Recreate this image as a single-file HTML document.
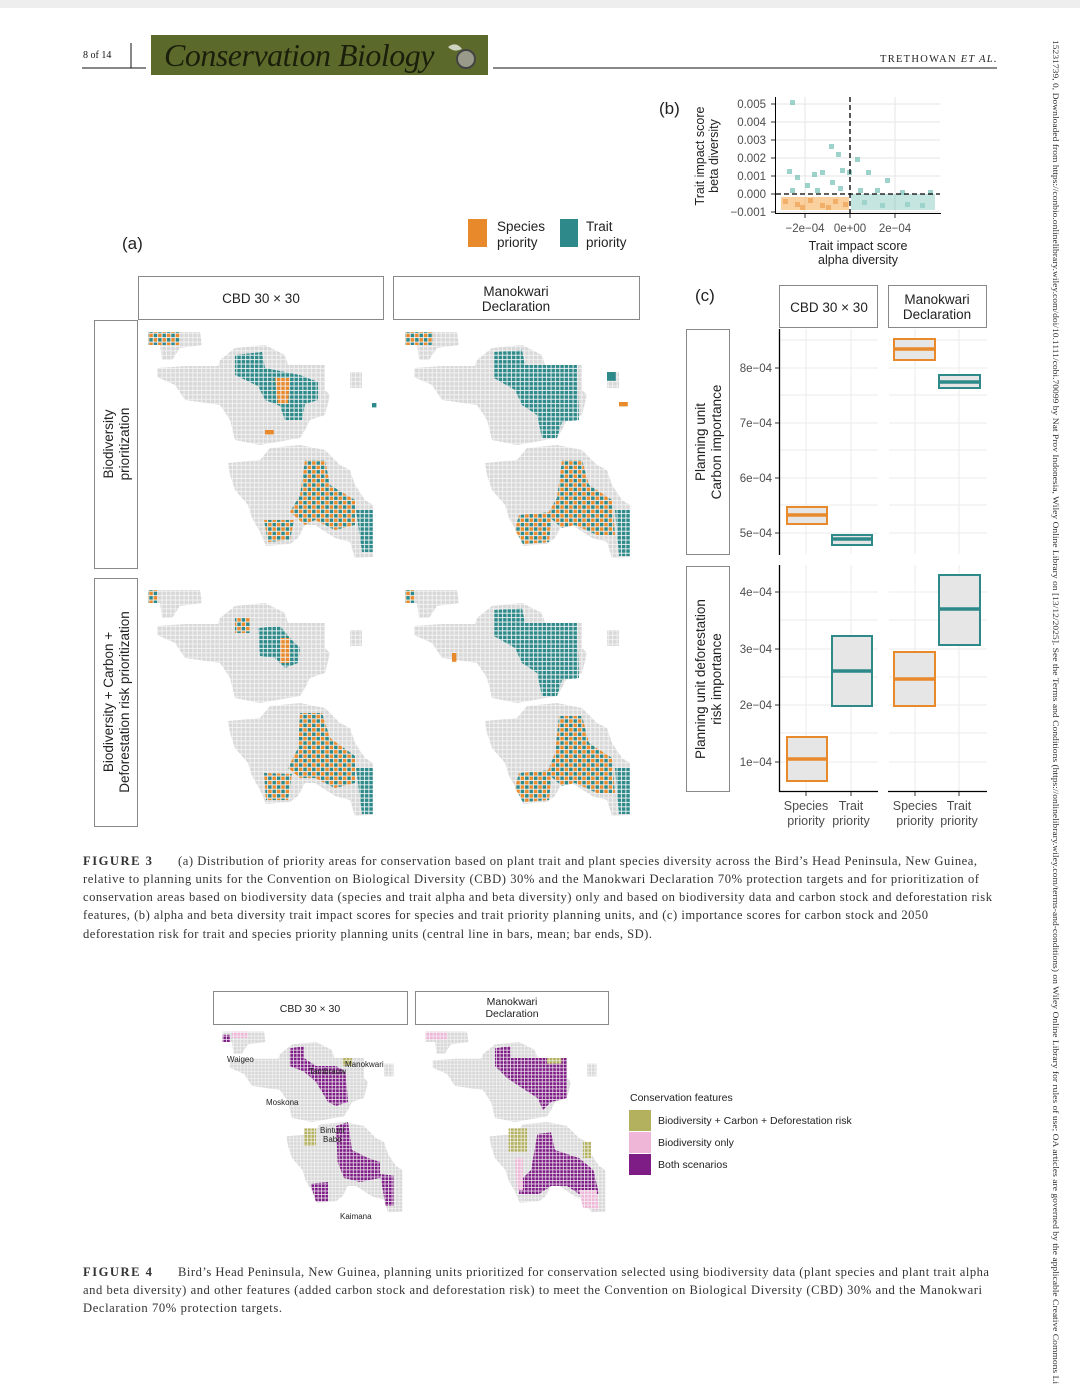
<!DOCTYPE html>
<html><head><meta charset="utf-8"><style>
html,body{margin:0;padding:0;background:#fff}
svg{display:block}
.s{font-family:"Liberation Sans",sans-serif;fill:#222}
.t{font-family:"Liberation Sans",sans-serif;fill:#4d4d4d}
.c{font-family:"Liberation Serif",serif;fill:#333;font-size:12.6px}
</style></head><body>
<svg width="1080" height="1384" viewBox="0 0 1080 1384" xmlns="http://www.w3.org/2000/svg">
<defs>
<pattern id="g" width="4.4" height="4.4" patternUnits="userSpaceOnUse"><rect width="4.4" height="4.4" fill="#f4f4f4"/><rect x="0.5" y="0.5" width="3.5" height="3.5" fill="#d8d8d8"/></pattern>
<pattern id="tl" width="4.4" height="4.4" patternUnits="userSpaceOnUse"><rect width="4.4" height="4.4" fill="#f4f4f4"/><rect x="0.5" y="0.5" width="3.5" height="3.5" fill="#2e8a8a"/></pattern>
<pattern id="or" width="4.4" height="4.4" patternUnits="userSpaceOnUse"><rect width="4.4" height="4.4" fill="#f4f4f4"/><rect x="0.5" y="0.5" width="3.5" height="3.5" fill="#e8892c"/></pattern>
<pattern id="mx" width="8.8" height="8.8" patternUnits="userSpaceOnUse"><rect width="8.8" height="8.8" fill="#f4f4f4"/><rect x="0.5" y="0.5" width="3.5" height="3.5" fill="#2e8a8a"/><rect x="4.9" y="0.5" width="3.5" height="3.5" fill="#e8892c"/><rect x="0.5" y="4.9" width="3.5" height="3.5" fill="#e8892c"/><rect x="4.9" y="4.9" width="3.5" height="3.5" fill="#2e8a8a"/></pattern>
<pattern id="pu" width="4.4" height="4.4" patternUnits="userSpaceOnUse"><rect width="4.4" height="4.4" fill="#f4f4f4"/><rect x="0.5" y="0.5" width="3.5" height="3.5" fill="#7f1d86"/></pattern>
<pattern id="ol" width="4.4" height="4.4" patternUnits="userSpaceOnUse"><rect width="4.4" height="4.4" fill="#f4f4f4"/><rect x="0.5" y="0.5" width="3.5" height="3.5" fill="#b3b15e"/></pattern>
<pattern id="pk" width="4.4" height="4.4" patternUnits="userSpaceOnUse"><rect width="4.4" height="4.4" fill="#f4f4f4"/><rect x="0.5" y="0.5" width="3.5" height="3.5" fill="#efb6d8"/></pattern>
<g id="land">
<path d="M8,12 L60,12 L62,25 L40,28 L32,40 L22,40 L20,25 L8,25Z"/>
<path d="M17,48 L45,46 L78,46 L80,40 L95,28 L125,25 L145,35 L148,45 L185,45 L185,70 L190,75 L185,95 L170,100 L165,110 L160,118 L120,125 L95,120 L90,100 L80,85 L45,80 L35,65 L17,57Z"/>
<path d="M210,52 L222,52 L222,68 L210,68Z"/>
<path d="M88,143 L120,140 L130,128 L160,125 L185,130 L200,145 L210,150 L215,165 L225,180 L233,185 L233,237 L215,238 L210,222 L195,218 L175,205 L165,205 L158,218 L150,224 L126,226 L120,212 L112,198 L108,185 L95,170 L90,155Z"/>
</g>
</defs>
<rect x="0" y="0" width="1080" height="8" fill="#eeeeee"/>

<!-- header -->
<text x="83" y="58" class="c" style="font-size:10px;fill:#111">8 of 14</text>
<line x1="131" y1="43" x2="131" y2="68" stroke="#111" stroke-width="1"/>
<line x1="82" y1="68" x2="146" y2="68" stroke="#111" stroke-width="1"/>
<rect x="151" y="35" width="337" height="40" fill="#5b6a2b"/>
<text x="164" y="66" style="font-family:'Liberation Serif',serif;font-style:italic;font-size:32px;fill:#1a1f0c;letter-spacing:-0.5px">Conservation Biology</text>
<circle cx="466" cy="59" r="9" fill="#9a9a8a" stroke="#444" stroke-width="2"/>
<path d="M448,47 q8,-6 14,2 q-8,4 -14,-2Z" fill="#cfd4c0"/>
<line x1="493" y1="68" x2="997" y2="68" stroke="#111" stroke-width="1"/>
<text x="880" y="62" class="c" textLength="117" style="font-size:10.5px;fill:#222;letter-spacing:0.5px">TRETHOWAN <tspan font-style="italic">ET AL.</tspan></text>

<!-- right side vertical text -->
<text transform="translate(1053,40) rotate(90)" class="c" textLength="1344" lengthAdjust="spacingAndGlyphs" style="font-size:8.6px;fill:#333">15231739, 0, Downloaded from https://conbio.onlinelibrary.wiley.com/doi/10.1111/cobi.70099 by Nat Prov Indonesia, Wiley Online Library on [13/12/2025]. See the Terms and Conditions (https://onlinelibrary.wiley.com/terms-and-conditions) on Wiley Online Library for rules of use; OA articles are governed by the applicable Creative Commons Li</text>

<!-- (a) legend -->
<text x="122" y="249" class="s" style="font-size:17px">(a)</text>
<rect x="468" y="219" width="19" height="28" fill="#e8892c"/>
<text x="497" y="231" class="s" style="font-size:13.5px">Species</text>
<text x="497" y="247" class="s" style="font-size:13.5px">priority</text>
<rect x="560" y="219" width="18" height="28" fill="#2e8a8a"/>
<text x="586" y="231" class="s" style="font-size:13.5px">Trait</text>
<text x="586" y="247" class="s" style="font-size:13.5px">priority</text>

<!-- strips (a) -->
<rect x="138.5" y="276.5" width="245" height="43" fill="#fff" stroke="#888"/>
<text x="261" y="303" class="s" text-anchor="middle" style="font-size:13.5px">CBD 30 × 30</text>
<rect x="393.5" y="276.5" width="246" height="43" fill="#fff" stroke="#888"/>
<text x="516" y="296" class="s" text-anchor="middle" style="font-size:13.5px">Manokwari</text>
<text x="516" y="311" class="s" text-anchor="middle" style="font-size:13.5px">Declaration</text>
<rect x="94.5" y="320.5" width="43" height="248" fill="#fff" stroke="#888"/>
<text transform="translate(113,444) rotate(-90)" class="s" text-anchor="middle" style="font-size:13.5px">Biodiversity</text>
<text transform="translate(129,444) rotate(-90)" class="s" text-anchor="middle" style="font-size:13.5px">prioritization</text>
<rect x="94.5" y="578.5" width="43" height="248" fill="#fff" stroke="#888"/>
<text transform="translate(113,702) rotate(-90)" class="s" text-anchor="middle" style="font-size:13.5px">Biodiversity + Carbon +</text>
<text transform="translate(129,702) rotate(-90)" class="s" text-anchor="middle" style="font-size:13.5px">Deforestation risk prioritization</text>

<!-- maps fig 3 -->
<g transform="translate(140,320)">
<use href="#land" fill="url(#g)"/>
<path d="M8,12 L40,12 L40,25 L8,25Z" fill="url(#mx)"/>
<path d="M95,35 L122,32 L125,48 L160,55 L178,62 L178,80 L165,84 L162,100 L145,100 L140,86 L125,80 L118,66 L95,55Z" fill="url(#tl)"/>
<path d="M135,58 L150,58 L148,84 L138,84Z" fill="url(#or)"/>
<path d="M165,140 L185,140 L190,165 L215,180 L215,205 L195,210 L175,200 L165,205 L150,192 L160,175Z" fill="url(#mx)"/>
<path d="M124,200 L154,200 L150,220 L128,222Z" fill="url(#mx)"/>
<path d="M216,190 L233,190 L233,232 L222,232Z" fill="url(#tl)"/>
<rect x="232" y="83" width="4.4" height="4.4" fill="#2e8a8a"/>
<rect x="125" y="110" width="8.8" height="4.4" fill="#e8892c"/>
</g>
<g transform="translate(397,320)">
<use href="#land" fill="url(#g)"/>
<path d="M8,12 L36,12 L36,25 L8,25Z" fill="url(#mx)"/>
<path d="M97,32 L125,30 L128,45 L180,45 L182,100 L165,102 L160,118 L145,118 L140,95 L125,85 L118,70 L97,58Z" fill="url(#tl)"/>
<path d="M165,140 L185,140 L192,165 L215,180 L218,215 L200,215 L178,205 L165,208 L150,195 L160,178Z" fill="url(#mx)"/>
<path d="M122,195 L155,192 L152,222 L126,224 L118,210Z" fill="url(#mx)"/>
<path d="M218,190 L233,190 L233,236 L222,236Z" fill="url(#tl)"/>
<rect x="210" y="52" width="8.8" height="8.8" fill="#2e8a8a"/>
<rect x="222" y="82" width="8.8" height="4.4" fill="#e8892c"/>
</g>
<g transform="translate(140,578)">
<use href="#land" fill="url(#g)"/>
<path d="M8,12 L18,12 L18,25 L8,25Z" fill="url(#mx)"/>
<path d="M118,50 L140,48 L150,60 L160,70 L158,85 L145,90 L135,80 L120,78Z" fill="url(#tl)"/>
<path d="M140,60 L150,60 L150,85 L140,85Z" fill="url(#or)"/>
<path d="M95,40 L110,40 L110,55 L95,55Z" fill="url(#mx)"/>
<path d="M160,135 L182,135 L190,160 L215,178 L215,205 L195,210 L175,200 L160,200 L148,190 L158,170Z" fill="url(#mx)"/>
<path d="M124,195 L152,196 L148,222 L126,222Z" fill="url(#mx)"/>
<path d="M216,190 L233,190 L233,236 L222,236Z" fill="url(#tl)"/>
</g>
<g transform="translate(397,578)">
<use href="#land" fill="url(#g)"/>
<path d="M8,12 L18,12 L18,25 L8,25Z" fill="url(#mx)"/>
<path d="M97,32 L125,30 L128,45 L180,45 L182,100 L165,102 L160,118 L145,118 L140,95 L125,85 L118,70 L97,58Z" fill="url(#tl)"/>
<path d="M162,138 L185,138 L192,165 L215,180 L218,215 L200,215 L178,205 L165,208 L150,195 L158,175Z" fill="url(#mx)"/>
<path d="M122,195 L155,192 L152,222 L126,224 L118,210Z" fill="url(#mx)"/>
<path d="M218,190 L233,190 L233,236 L222,236Z" fill="url(#tl)"/>
<rect x="55" y="75" width="4.4" height="8.8" fill="#e8892c"/>
</g>

<!-- (b) -->
<text x="659" y="114" class="s" style="font-size:17px">(b)</text>
<g stroke="#e6e6e6" stroke-width="1">
<line x1="776" y1="104" x2="940" y2="104"/><line x1="776" y1="122" x2="940" y2="122"/><line x1="776" y1="140" x2="940" y2="140"/><line x1="776" y1="158" x2="940" y2="158"/><line x1="776" y1="176" x2="940" y2="176"/><line x1="776" y1="212" x2="940" y2="212"/>
<line x1="805" y1="97" x2="805" y2="213"/><line x1="895" y1="97" x2="895" y2="213"/>
</g>
<g fill="#f5a94f" opacity="0.55">
<rect x="781" y="197" width="68" height="13"/>
</g>
<g fill="#e8892c" opacity="0.45">
<rect x="783" y="199" width="5" height="5"/><rect x="795" y="202" width="5" height="5"/><rect x="808" y="198" width="5" height="5"/><rect x="820" y="203" width="5" height="5"/><rect x="833" y="199" width="5" height="5"/><rect x="843" y="202" width="5" height="5"/><rect x="800" y="205" width="5" height="5"/><rect x="826" y="205" width="5" height="5"/>
</g>
<g fill="#4fb0a2" opacity="0.55">
<rect x="851" y="194" width="84" height="16" opacity="0.6"/>
<rect x="790" y="100" width="5" height="5"/><rect x="829" y="144" width="5" height="5"/><rect x="836" y="152" width="5" height="5"/><rect x="855" y="157" width="5" height="5"/><rect x="787" y="169" width="5" height="5"/><rect x="795" y="175" width="5" height="5"/><rect x="812" y="172" width="5" height="5"/><rect x="820" y="170" width="5" height="5"/><rect x="840" y="168" width="5" height="5"/><rect x="847" y="170" width="5" height="5"/><rect x="866" y="170" width="5" height="5"/><rect x="885" y="178" width="5" height="5"/><rect x="805" y="183" width="5" height="5"/><rect x="830" y="180" width="5" height="5"/><rect x="790" y="188" width="5" height="5"/><rect x="815" y="188" width="5" height="5"/><rect x="838" y="186" width="5" height="5"/><rect x="858" y="188" width="5" height="5"/><rect x="875" y="188" width="5" height="5"/><rect x="900" y="190" width="5" height="5"/><rect x="928" y="190" width="5" height="5"/><rect x="862" y="200" width="5" height="5"/><rect x="880" y="203" width="5" height="5"/><rect x="905" y="202" width="5" height="5"/><rect x="920" y="203" width="5" height="5"/>
</g>
<line x1="850" y1="97" x2="850" y2="213" stroke="#000" stroke-width="1.3" stroke-dasharray="5,3"/>
<line x1="776" y1="194" x2="940" y2="194" stroke="#000" stroke-width="1.3" stroke-dasharray="5,3"/>
<line x1="775.5" y1="97" x2="775.5" y2="213.5" stroke="#000"/>
<line x1="775" y1="213.5" x2="941" y2="213.5" stroke="#000"/>
<g class="t" style="font-size:11.5px" text-anchor="end">
<text x="766" y="108">0.005</text><text x="766" y="126">0.004</text><text x="766" y="144">0.003</text><text x="766" y="162">0.002</text><text x="766" y="180">0.001</text><text x="766" y="198">0.000</text><text x="766" y="216">−0.001</text>
</g>
<g stroke="#333"><line x1="771" y1="104" x2="775" y2="104"/><line x1="771" y1="122" x2="775" y2="122"/><line x1="771" y1="140" x2="775" y2="140"/><line x1="771" y1="158" x2="775" y2="158"/><line x1="771" y1="176" x2="775" y2="176"/><line x1="771" y1="194" x2="775" y2="194"/><line x1="771" y1="212" x2="775" y2="212"/>
<line x1="805" y1="214" x2="805" y2="218"/><line x1="850" y1="214" x2="850" y2="218"/><line x1="895" y1="214" x2="895" y2="218"/></g>
<g class="t" style="font-size:11.5px" text-anchor="middle">
<text x="805" y="232">−2e−04</text><text x="850" y="232">0e+00</text><text x="895" y="232">2e−04</text>
</g>
<text x="858" y="250" class="s" text-anchor="middle" style="font-size:12.5px">Trait impact score</text>
<text x="858" y="264" class="s" text-anchor="middle" style="font-size:12.5px">alpha diversity</text>
<text transform="translate(704,156) rotate(-90)" class="s" text-anchor="middle" style="font-size:12.5px">Trait impact score</text>
<text transform="translate(718,156) rotate(-90)" class="s" text-anchor="middle" style="font-size:12.5px">beta diversity</text>

<!-- (c) -->
<text x="695" y="301" class="s" style="font-size:17px">(c)</text>
<rect x="779.5" y="285.5" width="98" height="42" fill="#fff" stroke="#888"/>
<text x="829" y="312" class="s" text-anchor="middle" style="font-size:13.5px">CBD 30 × 30</text>
<rect x="888.5" y="285.5" width="98" height="42" fill="#fff" stroke="#888"/>
<text x="937" y="304" class="s" text-anchor="middle" style="font-size:13.5px">Manokwari</text>
<text x="937" y="319" class="s" text-anchor="middle" style="font-size:13.5px">Declaration</text>
<rect x="686.5" y="329.5" width="43" height="225" fill="#fff" stroke="#888"/>
<text transform="translate(705,442) rotate(-90)" class="s" text-anchor="middle" style="font-size:13.5px">Planning unit</text>
<text transform="translate(721,442) rotate(-90)" class="s" text-anchor="middle" style="font-size:13.5px">Carbon importance</text>
<rect x="686.5" y="566.5" width="43" height="225" fill="#fff" stroke="#888"/>
<text transform="translate(705,679) rotate(-90)" class="s" text-anchor="middle" style="font-size:13.5px">Planning unit deforestation</text>
<text transform="translate(721,679) rotate(-90)" class="s" text-anchor="middle" style="font-size:13.5px">risk importance</text>
<g stroke="#ebebeb" stroke-width="1">
<line x1="780" y1="340" x2="878" y2="340"/><line x1="780" y1="368" x2="878" y2="368"/><line x1="780" y1="395" x2="878" y2="395"/><line x1="780" y1="423" x2="878" y2="423"/><line x1="780" y1="450" x2="878" y2="450"/><line x1="780" y1="478" x2="878" y2="478"/><line x1="780" y1="505" x2="878" y2="505"/><line x1="780" y1="533" x2="878" y2="533"/>
<line x1="889" y1="340" x2="987" y2="340"/><line x1="889" y1="368" x2="987" y2="368"/><line x1="889" y1="395" x2="987" y2="395"/><line x1="889" y1="423" x2="987" y2="423"/><line x1="889" y1="450" x2="987" y2="450"/><line x1="889" y1="478" x2="987" y2="478"/><line x1="889" y1="505" x2="987" y2="505"/><line x1="889" y1="533" x2="987" y2="533"/>
<line x1="780" y1="592" x2="878" y2="592"/><line x1="780" y1="620" x2="878" y2="620"/><line x1="780" y1="649" x2="878" y2="649"/><line x1="780" y1="677" x2="878" y2="677"/><line x1="780" y1="705" x2="878" y2="705"/><line x1="780" y1="733" x2="878" y2="733"/><line x1="780" y1="762" x2="878" y2="762"/>
<line x1="889" y1="592" x2="987" y2="592"/><line x1="889" y1="620" x2="987" y2="620"/><line x1="889" y1="649" x2="987" y2="649"/><line x1="889" y1="677" x2="987" y2="677"/><line x1="889" y1="705" x2="987" y2="705"/><line x1="889" y1="733" x2="987" y2="733"/><line x1="889" y1="762" x2="987" y2="762"/>
<line x1="806" y1="329" x2="806" y2="554"/><line x1="851" y1="329" x2="851" y2="554"/><line x1="915" y1="329" x2="915" y2="554"/><line x1="959" y1="329" x2="959" y2="554"/>
<line x1="806" y1="565" x2="806" y2="791"/><line x1="851" y1="565" x2="851" y2="791"/><line x1="915" y1="565" x2="915" y2="791"/><line x1="959" y1="565" x2="959" y2="791"/>
</g>
<g stroke-width="2" fill="#e6e6e6">
<rect x="787" y="507" width="40" height="17" stroke="#e8892c"/>
<rect x="832" y="535" width="40" height="10" stroke="#2e8a8a"/>
<rect x="894" y="339" width="41" height="21" stroke="#e8892c"/>
<rect x="939" y="375" width="41" height="13" stroke="#2e8a8a"/>
<rect x="787" y="737" width="40" height="44" stroke="#e8892c"/>
<rect x="832" y="636" width="40" height="70" stroke="#2e8a8a"/>
<rect x="894" y="652" width="41" height="54" stroke="#e8892c"/>
<rect x="939" y="575" width="41" height="70" stroke="#2e8a8a"/>
</g>
<g stroke-width="3.5">
<line x1="787" y1="515" x2="827" y2="515" stroke="#e8892c"/>
<line x1="832" y1="539" x2="872" y2="539" stroke="#2e8a8a"/>
<line x1="894" y1="349" x2="935" y2="349" stroke="#e8892c"/>
<line x1="939" y1="382" x2="980" y2="382" stroke="#2e8a8a"/>
<line x1="787" y1="759" x2="827" y2="759" stroke="#e8892c"/>
<line x1="832" y1="671" x2="872" y2="671" stroke="#2e8a8a"/>
<line x1="894" y1="679" x2="935" y2="679" stroke="#e8892c"/>
<line x1="939" y1="609" x2="980" y2="609" stroke="#2e8a8a"/>
</g>
<g stroke="#000" stroke-width="1.3">
<line x1="779.5" y1="329" x2="779.5" y2="555"/><line x1="779.5" y1="565" x2="779.5" y2="792"/>
<line x1="779" y1="791.5" x2="878" y2="791.5"/><line x1="888" y1="791.5" x2="987" y2="791.5"/>
</g>
<g stroke="#333"><line x1="775" y1="368" x2="779" y2="368"/><line x1="775" y1="423" x2="779" y2="423"/><line x1="775" y1="478" x2="779" y2="478"/><line x1="775" y1="533" x2="779" y2="533"/><line x1="775" y1="592" x2="779" y2="592"/><line x1="775" y1="649" x2="779" y2="649"/><line x1="775" y1="705" x2="779" y2="705"/><line x1="775" y1="762" x2="779" y2="762"/>
<line x1="806" y1="792" x2="806" y2="796"/><line x1="851" y1="792" x2="851" y2="796"/><line x1="915" y1="792" x2="915" y2="796"/><line x1="959" y1="792" x2="959" y2="796"/></g>
<g class="t" style="font-size:11.5px" text-anchor="end">
<text x="772" y="372">8e−04</text><text x="772" y="427">7e−04</text><text x="772" y="482">6e−04</text><text x="772" y="537">5e−04</text>
<text x="772" y="596">4e−04</text><text x="772" y="653">3e−04</text><text x="772" y="709">2e−04</text><text x="772" y="766">1e−04</text>
</g>
<g class="t" style="font-size:12.5px" text-anchor="middle">
<text x="806" y="810">Species</text><text x="806" y="825">priority</text><text x="851" y="810">Trait</text><text x="851" y="825">priority</text>
<text x="915" y="810">Species</text><text x="915" y="825">priority</text><text x="959" y="810">Trait</text><text x="959" y="825">priority</text>
</g>

<!-- caption fig 3 -->
<g class="c">
<text x="83" y="865" style="font-weight:bold;letter-spacing:1.5px">FIGURE 3</text>
<text x="178" y="865" textLength="799" lengthAdjust="spacing">(a) Distribution of priority areas for conservation based on plant trait and plant species diversity across the Bird’s Head Peninsula, New Guinea,</text>
<text x="83" y="883" textLength="896" lengthAdjust="spacing">relative to planning units for the Convention on Biological Diversity (CBD) 30% and the Manokwari Declaration 70% protection targets and for prioritization of</text>
<text x="83" y="901" textLength="909" lengthAdjust="spacing">conservation areas based on biodiversity data (species and trait alpha and beta diversity) only and based on biodiversity data and carbon stock and deforestation risk</text>
<text x="83" y="919" textLength="845" lengthAdjust="spacing">features, (b) alpha and beta diversity trait impact scores for species and trait priority planning units, and (c) importance scores for carbon stock and 2050</text>
<text x="83" y="938" textLength="569" lengthAdjust="spacing">deforestation risk for trait and species priority planning units (central line in bars, mean; bar ends, SD).</text>
</g>

<!-- figure 4 -->
<rect x="213.5" y="991.5" width="194" height="33" fill="#fff" stroke="#888"/>
<text x="310" y="1012" class="s" text-anchor="middle" style="font-size:10.5px">CBD 30 × 30</text>
<rect x="415.5" y="991.5" width="193" height="33" fill="#fff" stroke="#888"/>
<text x="512" y="1005" class="s" text-anchor="middle" style="font-size:10.5px">Manokwari</text>
<text x="512" y="1017" class="s" text-anchor="middle" style="font-size:10.5px">Declaration</text>
<g transform="translate(216,1022) scale(0.8)">
<use href="#land" fill="url(#g)"/>
<path d="M20,12 L40,12 L40,20 L20,20Z" fill="url(#pk)"/>
<path d="M8,16 L18,16 L18,25 L8,25Z" fill="url(#pu)"/>
<path d="M92,33 L110,30 L110,45 L125,55 L150,55 L162,62 L165,100 L150,105 L140,100 L125,75 L110,62 L92,55Z" fill="url(#pu)"/>
<path d="M150,130 L165,125 L170,160 L190,170 L205,175 L205,195 L180,200 L160,195 L152,175Z" fill="url(#pu)"/>
<path d="M118,202 L140,200 L140,225 L125,225Z" fill="url(#pu)"/>
<path d="M205,190 L222,192 L222,230 L212,230Z" fill="url(#pu)"/>
<path d="M110,133 L125,133 L125,155 L110,155Z" fill="url(#ol)"/>
<path d="M158,45 L170,45 L170,55 L158,55Z" fill="url(#ol)"/>
</g>
<g transform="translate(419,1022) scale(0.8)">
<use href="#land" fill="url(#g)"/>
<path d="M8,12 L35,12 L35,22 L8,22Z" fill="url(#pk)"/>
<path d="M95,33 L115,30 L115,45 L185,45 L185,95 L165,100 L155,110 L148,95 L125,80 L110,70 L95,55Z" fill="url(#pu)"/>
<path d="M148,140 L165,138 L170,160 L200,170 L218,185 L225,215 L200,215 L185,205 L165,205 L150,215 L125,215 L125,200 L140,185Z" fill="url(#pu)"/>
<path d="M112,133 L135,133 L135,162 L112,162Z" fill="url(#ol)"/>
<path d="M120,170 L130,170 L130,210 L122,210Z" fill="url(#pk)"/>
<path d="M200,210 L222,210 L225,235 L205,232Z" fill="url(#pk)"/>
<path d="M160,45 L178,45 L178,52 L160,52Z" fill="url(#ol)"/>
<path d="M205,150 L215,150 L215,170 L205,170Z" fill="url(#ol)"/>
</g>
<g class="s" style="font-size:8px">
<text x="227" y="1062">Waigeo</text><text x="309" y="1074">Tambrauw</text><text x="345" y="1067">Manokwari</text><text x="266" y="1105">Moskona</text><text x="320" y="1133">Bintuni</text><text x="323" y="1142">Babo</text><text x="340" y="1219">Kaimana</text>
</g>
<text x="630" y="1101" class="s" style="font-size:10.5px">Conservation features</text>
<rect x="629" y="1110" width="22" height="21" fill="#b3b15e"/>
<rect x="629" y="1132" width="22" height="21" fill="#efb6d8"/>
<rect x="629" y="1154" width="22" height="21" fill="#7f1d86"/>
<text x="658" y="1124" class="s" style="font-size:10.5px">Biodiversity + Carbon + Deforestation risk</text>
<text x="658" y="1146" class="s" style="font-size:10.5px">Biodiversity only</text>
<text x="658" y="1168" class="s" style="font-size:10.5px">Both scenarios</text>

<g class="c">
<text x="83" y="1276" style="font-weight:bold;letter-spacing:1.5px">FIGURE 4</text>
<text x="178" y="1276" textLength="811" lengthAdjust="spacing">Bird’s Head Peninsula, New Guinea, planning units prioritized for conservation selected using biodiversity data (plant species and plant trait alpha</text>
<text x="83" y="1294" textLength="899" lengthAdjust="spacing">and beta diversity) and other features (added carbon stock and deforestation risk) to meet the Convention on Biological Diversity (CBD) 30% and the Manokwari</text>
<text x="83" y="1312" textLength="199" lengthAdjust="spacing">Declaration 70% protection targets.</text>
</g>
</svg>
</body></html>
